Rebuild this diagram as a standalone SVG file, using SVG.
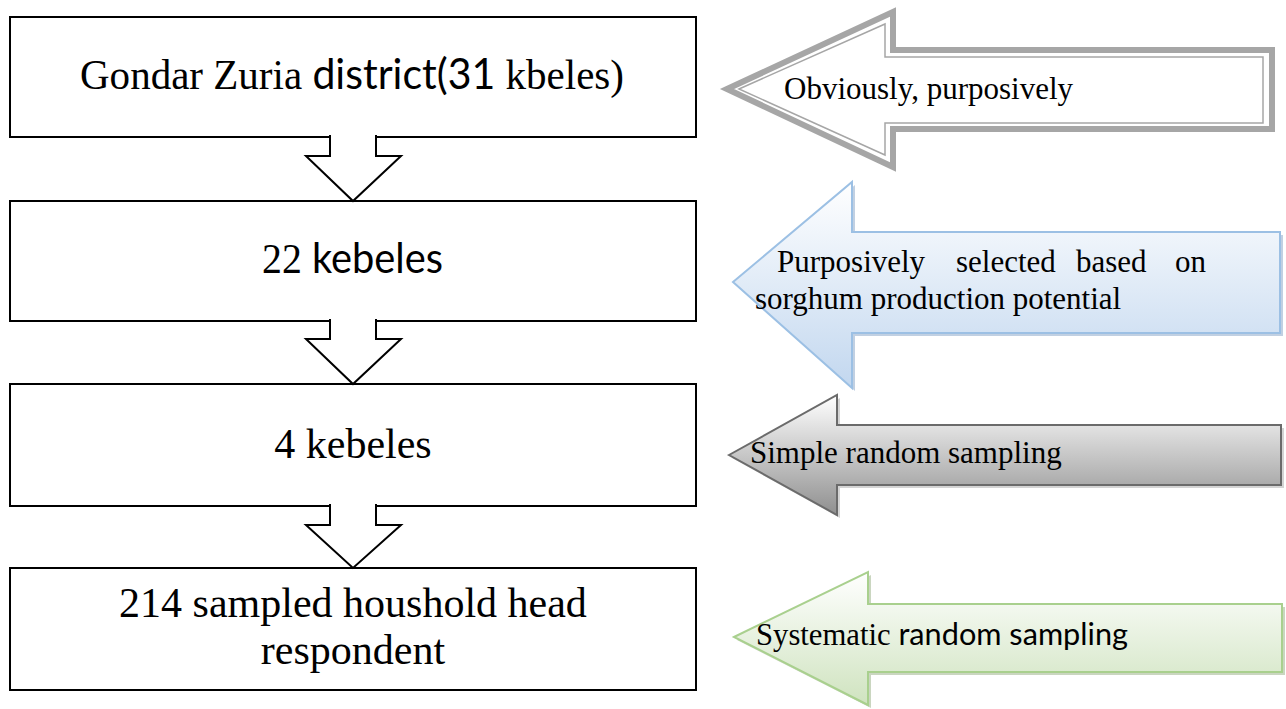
<svg xmlns="http://www.w3.org/2000/svg" width="1286" height="709" viewBox="0 0 1286 709">
<defs>
<linearGradient id="gBlue" x1="0" y1="0" x2="0" y2="1"><stop offset="0" stop-color="#ffffff"/><stop offset="1" stop-color="#c2d7ef"/></linearGradient>
<linearGradient id="gGray" x1="0" y1="0" x2="0" y2="1"><stop offset="0" stop-color="#ffffff"/><stop offset="1" stop-color="#8f8f8f"/></linearGradient>
<linearGradient id="gGreen" x1="0" y1="0" x2="0" y2="1"><stop offset="0" stop-color="#ffffff"/><stop offset="1" stop-color="#cfe3bf"/></linearGradient>
<style>
.box{fill:#ffffff;stroke:#000000;stroke-width:2}
.down{fill:#ffffff;stroke:#000000;stroke-width:2;stroke-linejoin:miter}
.serif{font-family:"Liberation Serif","Times New Roman",serif;fill:#000000}
.sans{font-family:Lato,"Liberation Sans",sans-serif}
.big{font-size:42px}
.small{font-size:31px}
.shadow{opacity:0.55}
</style>
</defs>
<rect width="1286" height="709" fill="#ffffff"/>

<g id="box1">
<rect class="box" x="10" y="17" width="686" height="120"/>
<text class="serif big" x="80" y="89" textLength="544" lengthAdjust="spacingAndGlyphs">Gondar Zuria <tspan class="sans">district(31</tspan> kbeles)</text>
</g>
<g id="box2">
<rect class="box" x="10" y="201" width="686" height="120"/>
<text class="serif big" x="262" y="273" textLength="181" lengthAdjust="spacingAndGlyphs">22<tspan class="sans"> kebeles</tspan></text>
</g>
<g id="box3">
<rect class="box" x="10" y="384" width="686" height="122"/>
<text class="serif big" x="353" y="458" text-anchor="middle">4 kebeles</text>
</g>
<g id="box4">
<rect class="box" x="10" y="568" width="686" height="122"/>
<text class="serif big" x="353" y="617" text-anchor="middle">214 sampled houshold head</text>
<text class="serif big" x="353" y="664" text-anchor="middle">respondent</text>
</g>

<g id="connectors">
<path class="down" d="M330,135 V156 H306 L353,201 L401,156 H376 V135"/>
<path class="down" d="M330,319 V339 H306 L353,384 L401,339 H376 V319"/>
<path class="down" d="M330,504 V525 H306 L353,568 L401,525 H376 V504"/>
</g>

<g id="arrowA">
<polygon points="727,89 893,12 893,50 1272,50 1272,129 893,129 893,167" fill="#ffffff" stroke="#a6a6a6" stroke-width="6" stroke-linejoin="miter"/>
<polygon points="739,89 885,24 885,57 1263,57 1263,123 885,123 885,155" fill="none" stroke="#a6a6a6" stroke-width="1.5"/>
<text class="serif small" x="784" y="99">Obviously, purposively</text>
</g>

<g id="arrowB">
<polygon class="shadow" points="736,285 855,185 855,235 1283,235 1283,336 855,336 855,391" fill="#8eaacb"/>
<polygon points="733,282 852,182 852,232 1280,232 1280,333 852,333 852,388" fill="url(#gBlue)" stroke="#9cc0e4" stroke-width="2"/>
<text class="serif small" y="272"><tspan x="777">Purposively</tspan><tspan x="956">selected</tspan><tspan x="1076">based</tspan><tspan x="1175">on</tspan></text>
<text class="serif small" x="755" y="309">sorghum production potential</text>
</g>

<g id="arrowC">
<polygon class="shadow" points="732,458 840,398 840,428 1284,428 1284,488 840,488 840,518" fill="#b0b0b0"/>
<polygon points="729,455 837,395 837,425 1281,425 1281,485 837,485 837,515" fill="url(#gGray)" stroke="#6b6b6b" stroke-width="2"/>
<text class="serif small" x="750" y="463">Simple random sampling</text>
</g>

<g id="arrowD">
<polygon class="shadow" points="737,640 871,575 871,607 1285,607 1285,675 871,675 871,708" fill="#9fb48c"/>
<polygon points="734,637 868,572 868,604 1282,604 1282,672 868,672 868,705" fill="url(#gGreen)" stroke="#a9d08e" stroke-width="2"/>
<text class="serif small" x="756" y="645" textLength="372" lengthAdjust="spacingAndGlyphs">Systematic<tspan class="sans"> random sampling</tspan></text>
</g>
</svg>
